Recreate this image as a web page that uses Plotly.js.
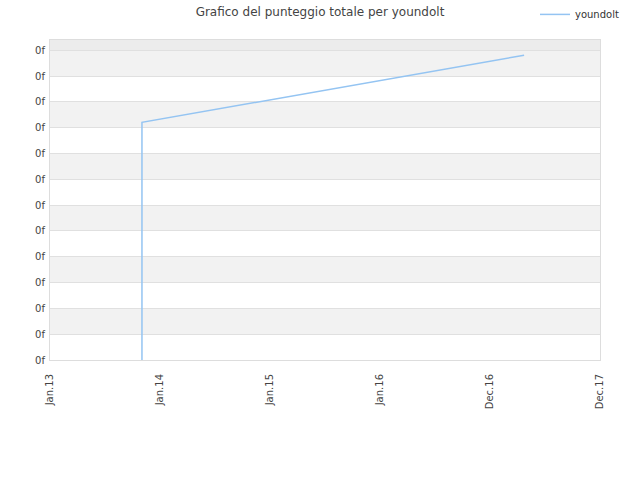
<!DOCTYPE html>
<html>
<head>
<meta charset="utf-8">
<script src="https://cdn.plot.ly/plotly-3.0.1.min.js"></script>
<style>
  html, body { margin: 0; padding: 0; background: #ffffff; }
  #chart { width: 640px; height: 480px; }
</style>
</head>
<body>
<div id="chart"></div>
<script>
// x axis labels (evenly spaced positions 0..5)
const xLabels = ['Jan.13', 'Jan.14', 'Jan.15', 'Jan.16', 'Dec.16', 'Dec.17']
// y axis ticks, all printed as "0f" in the original
const yTicks = [0, 1, 2, 3, 4, 5, 6, 7, 8, 9, 10, 11, 12]
const yTickText = yTicks.map(() => '0f')

// series youndolt (x in label units, y in tick units)
const seriesX = [0.836, 0.836, 4.31]
const seriesY = [0, 9.21, 11.81]

const yMax = 12.4

// alternating background bands
const shapes = []
for (let i = 0; i < yTicks.length; i++) {
  const y0 = yTicks[i]
  const y1 = i + 1 < yTicks.length ? yTicks[i + 1] : yMax
  let fill = null
  if (i === yTicks.length - 1) fill = '#ececec'
  else if (i % 2 === 1) fill = '#f2f2f2'
  if (!fill) continue
  shapes.push({
    type: 'rect', xref: 'paper', yref: 'y', x0: 0, x1: 1, y0: y0, y1: y1,
    fillcolor: fill, line: { width: 0 }, layer: 'below'
  })
}

const trace = {
  x: seriesX,
  y: seriesY,
  type: 'scatter',
  mode: 'lines',
  name: 'youndolt',
  line: { color: '#94c4f2', width: 1.5 }
}

const layout = {
  width: 640,
  height: 480,
  title: {
    text: 'Grafico del punteggio totale per youndolt',
    font: { family: 'DejaVu Sans', size: 12, color: '#444444' },
    x: 0.5, xref: 'container', xanchor: 'center',
    y: 0.975, yref: 'container', yanchor: 'middle'
  },
  xaxis: {
    range: [0, 5],
    tickvals: [0, 1, 2, 3, 4, 5],
    ticktext: xLabels,
    tickangle: -90,
    ticks: 'outside',
    ticklen: 9,
    tickcolor: 'rgba(0,0,0,0)',
    tickfont: { family: 'DejaVu Sans', size: 10, color: '#444444' },
    showgrid: false,
    zeroline: false,
    showline: true,
    linecolor: '#dddddd',
    mirror: true,
    fixedrange: true
  },
  yaxis: {
    range: [0, yMax],
    tickvals: yTicks,
    ticktext: yTickText,
    ticks: 'outside',
    ticklen: 2,
    tickcolor: 'rgba(0,0,0,0)',
    tickfont: { family: 'DejaVu Sans', size: 10, color: '#444444' },
    showgrid: true,
    gridcolor: '#e0e0e0',
    zeroline: false,
    showline: true,
    linecolor: '#dddddd',
    mirror: true,
    fixedrange: true
  },
  shapes: shapes,
  showlegend: true,
  legend: {
    xref: 'container', yref: 'container',
    x: 0.975, xanchor: 'right',
    y: 0.97, yanchor: 'middle',
    font: { family: 'DejaVu Sans', size: 10, color: '#333333' },
    bgcolor: 'rgba(0,0,0,0)'
  },
  plot_bgcolor: '#ffffff',
  paper_bgcolor: '#ffffff',
  margin: { l: 50, r: 40, t: 40, b: 120, autoexpand: false }
}

Plotly.newPlot('chart', [trace], layout, { displayModeBar: false, staticPlot: true })
</script>
</body>
</html>
